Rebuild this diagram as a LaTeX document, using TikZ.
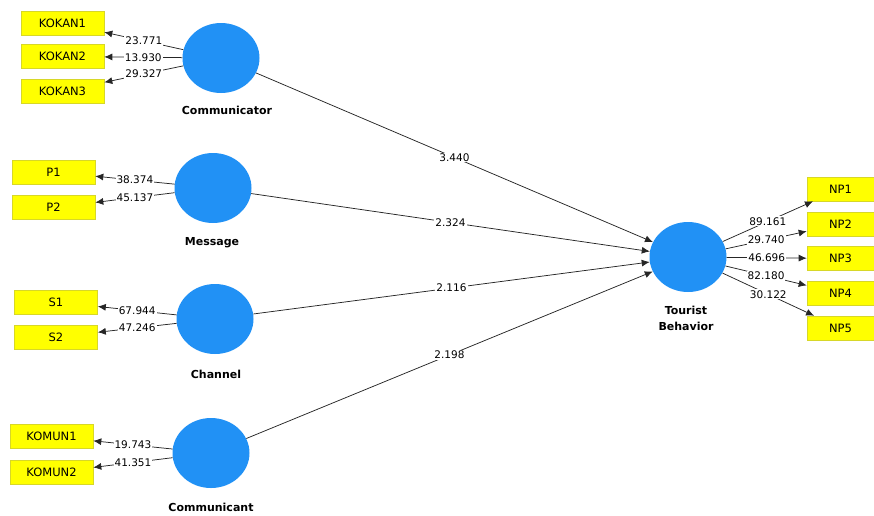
\documentclass[tikz,border=0pt]{standalone}
\usepackage{fontspec}
\setmainfont{DejaVu Sans}
\usetikzlibrary{arrows.meta,shapes.geometric}
\definecolor{lvblue}{RGB}{33,145,245}
\definecolor{mvyellow}{RGB}{255,255,0}
\definecolor{mvedge}{RGB}{215,215,40}
\begin{document}
\begin{tikzpicture}[x=1pt, y=-1pt,
    latent/.style={ellipse, fill=lvblue, draw=none, minimum width=77pt, minimum height=70pt, inner sep=0pt},
    manifest/.style={rectangle, fill=mvyellow, draw=mvedge, line width=0.6pt, minimum width=83pt, minimum height=24pt, inner sep=0pt, font=\fontsize{11.5}{13}\selectfont},
    lvname/.style={font=\fontsize{11}{16}\selectfont\bfseries, align=center, inner sep=1pt},
    coef/.style={fill=white, inner sep=1pt, font=\fontsize{10.5}{12}\selectfont},
    path/.style={draw=black!85, line width=0.75pt, -{Latex[length=8pt,width=7pt]}}]
            \useasboundingbox (0,0) rectangle (874,515);

            \node[latent] (com) at (221,58) {};
            \node[latent] (msg) at (213,188) {};
            \node[latent] (chn) at (215,319) {};
            \node[latent] (cmt) at (211,453) {};
            \node[latent] (tb) at (688,257) {};

            \node[lvname] (comlbl) at (227,110) {Communicator};
            \node[lvname] (msglbl) at (212,243) {Message};
            \node[lvname] (chnlbl) at (216,374) {Channel};
            \node[lvname] (cmtlbl) at (211,507) {Communicant};
            \node[lvname] (tblbl) at (686,318) {Tourist\\Behavior};

            \node[manifest] (kokan1) at (62.5,23) {KOKAN1};
            \node[manifest] (kokan2) at (62.5,56.5) {KOKAN2};
            \node[manifest] (kokan3) at (62.5,91) {KOKAN3};
            \node[manifest] (p1) at (53.5,172) {P1};
            \node[manifest] (p2) at (53.5,207.5) {P2};
            \node[manifest] (s1) at (56,302) {S1};
            \node[manifest] (s2) at (56,337) {S2};
            \node[manifest] (komun1) at (51.5,436.5) {KOMUN1};
            \node[manifest] (komun2) at (51.5,472.5) {KOMUN2};
            \node[manifest, minimum width=67pt] (np1) at (840.5,189) {NP1};
            \node[manifest, minimum width=67pt] (np2) at (840.5,224) {NP2};
            \node[manifest, minimum width=67pt] (np3) at (840.5,258.5) {NP3};
            \node[manifest, minimum width=67pt] (np4) at (840.5,293.5) {NP4};
            \node[manifest, minimum width=67pt] (np5) at (840.5,328) {NP5};

            \draw[path] (com) -- node[coef] {23.771} (kokan1);
            \draw[path] (com) -- node[coef] {13.930} (kokan2);
            \draw[path] (com) -- node[coef] {29.327} (kokan3);
            \draw[path] (msg) -- node[coef] {38.374} (p1);
            \draw[path] (msg) -- node[coef] {45.137} (p2);
            \draw[path] (chn) -- node[coef] {67.944} (s1);
            \draw[path] (chn) -- node[coef] {47.246} (s2);
            \draw[path] (cmt) -- node[coef] {19.743} (komun1);
            \draw[path] (cmt) -- node[coef] {41.351} (komun2);

            \draw[path] (com) -- node[coef] {3.440} (tb);
            \draw[path] (msg) -- node[coef] {2.324} (tb);
            \draw[path] (chn) -- node[coef] {2.116} (tb);
            \draw[path] (cmt) -- node[coef] {2.198} (tb);

            \draw[path] (tb) -- node[coef] {89.161} (np1);
            \draw[path] (tb) -- node[coef] {29.740} (np2);
            \draw[path] (tb) -- node[coef] {46.696} (np3);
            \draw[path] (tb) -- node[coef] {82.180} (np4);
            \draw[path] (tb) -- node[coef] {30.122} (np5);
    \end{tikzpicture}
\end{document}
